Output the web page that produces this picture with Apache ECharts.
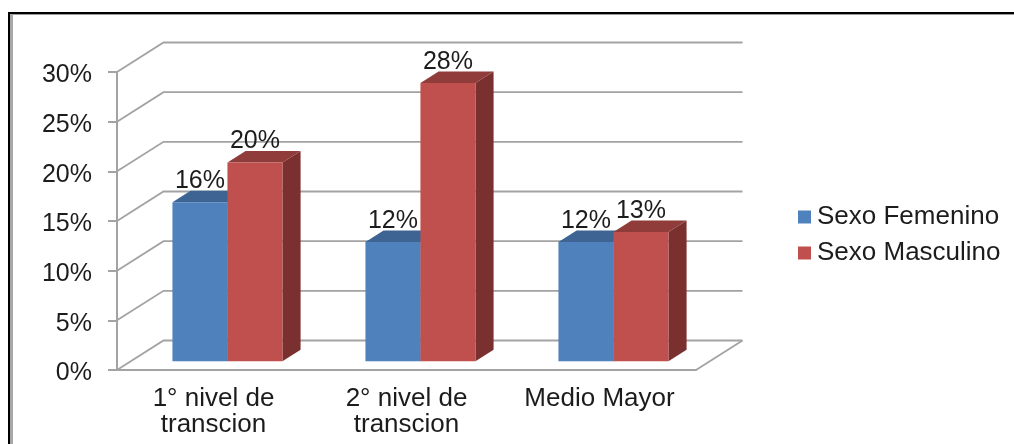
<!DOCTYPE html>
<html>
<head>
<meta charset="utf-8">
<style>
  html, body { margin: 0; padding: 0; background: #fff; }
  #chart { width: 1014px; height: 444px; }
</style>
<script src="https://cdn.jsdelivr.net/npm/echarts@6/dist/echarts.min.js"></script>
</head>
<body>
<div id="chart"></div>
<script>
// Percentages per education level and sex
const categories = ['1° nivel de\ntranscion', '2° nivel de\ntranscion', 'Medio Mayor'];
const femaleValues = [16, 12, 12];
const maleValues = [20, 28, 13];
const wallTicks = [0, 5, 10, 15, 20, 25, 30];

// Oblique projection used for the box and the columns
const DEPTH_X = 46.5, DEPTH_Y = 29.5;
const BAR_NEAR = 0.3, BAR_FAR = 0.69;
const BAR_SHARE = 0.285;

const FONT = '"Liberation Sans", Arial, sans-serif';
const TEXT = '#1c1c1c';
const GRID = '#a3a3a3';

const chart = echarts.init(document.getElementById('chart'), null, { renderer: 'canvas' });

// Back wall and side wall rules, one per tick, plus the floor's right edge
function renderWall(params, api) {
  const band = api.size([1, 0])[0];
  const p = api.coord([0, api.value(1)]);
  const x0 = p[0] - band / 2;
  const xEnd = x0 + band * categories.length;
  const children = [{
    type: 'polyline',
    shape: { points: [[x0, p[1]], [x0 + DEPTH_X, p[1] - DEPTH_Y], [xEnd + DEPTH_X, p[1] - DEPTH_Y]] },
    style: { stroke: GRID, lineWidth: 1.8, fill: null }
  }];
  if (params.dataIndex === 0) {
    children.push({
      type: 'line',
      shape: { x1: xEnd, y1: p[1], x2: xEnd + DEPTH_X, y2: p[1] - DEPTH_Y },
      style: { stroke: GRID, lineWidth: 1.8 }
    });
  }
  return { type: 'group', children };
}

// One column: front, top and side faces, with its value label over the top face
function columnRenderer(slot, front, top, side) {
  return function (params, api) {
    const band = api.size([1, 0])[0];
    const w = band * BAR_SHARE;
    const value = api.value(1);
    const base = api.coord([api.value(0), 0]);
    const head = api.coord([api.value(0), value]);
    const nx = DEPTH_X * BAR_NEAR, ny = DEPTH_Y * BAR_NEAR;
    const fx = DEPTH_X * BAR_FAR, fy = DEPTH_Y * BAR_FAR;
    const left = base[0] + nx + slot * w;
    const right = left + w;
    const yb = base[1] - ny, yt = head[1] - ny;
    const dx = fx - nx, dy = fy - ny;
    const face = (points, fill) => ({ type: 'polygon', shape: { points }, style: { fill } });
    return {
      type: 'group',
      children: [
        face([[right, yb], [right + dx, yb - dy], [right + dx, yt - dy], [right, yt]], side),
        face([[left, yt], [left + dx, yt - dy], [right + dx, yt - dy], [right, yt]], top),
        face([[left, yb], [right, yb], [right, yt], [left, yt]], front),
        {
          type: 'text',
          z2: 10,
          style: {
            text: value + '%',
            x: (left + right) / 2,
            y: yt - dy + 3,
            align: 'center',
            verticalAlign: 'bottom',
            font: '25px ' + FONT,
            fill: TEXT
          }
        }
      ]
    };
  };
}

chart.setOption({
  animation: false,
  backgroundColor: '#fff',
  grid: { left: 117, top: 72, width: 579, height: 298 },
  xAxis: {
    type: 'category',
    data: categories,
    axisLine: { lineStyle: { color: GRID, width: 2 } },
    axisTick: { length: 7, lineStyle: { color: GRID, width: 2 } },
    axisLabel: { color: TEXT, fontFamily: FONT, fontSize: 26, lineHeight: 26, margin: 16, interval: 0 }
  },
  yAxis: {
    type: 'value',
    min: 0,
    max: 30,
    interval: 5,
    splitLine: { show: false },
    axisLine: { show: true, lineStyle: { color: GRID, width: 2 } },
    axisTick: { show: true, length: 9, lineStyle: { color: GRID, width: 2 } },
    axisLabel: {
      margin: 25,
      formatter: '{pct|{value}%}',
      rich: { pct: { color: TEXT, fontFamily: FONT, fontSize: 25, padding: [7, 0, 0, 0] } }
    }
  },
  legend: {
    orient: 'vertical',
    left: 798,
    top: 204,
    padding: 0,
    itemWidth: 13,
    itemHeight: 13,
    itemGap: 10,
    icon: 'rect',
    data: ['Sexo Femenino', 'Sexo Masculino'],
    textStyle: { color: TEXT, fontFamily: FONT, fontSize: 26, padding: [0, 0, 0, 1] }
  },
  series: [
    {
      name: 'wall',
      type: 'custom',
      renderItem: renderWall,
      data: wallTicks.map(t => [0, t]),
      z: 1,
      silent: true
    },
    {
      name: 'Sexo Femenino',
      type: 'custom',
      renderItem: columnRenderer(-1, '#4f81bd', '#3e6493', '#3a5d88'),
      itemStyle: { color: '#4f81bd' },
      data: femaleValues.map((v, i) => [i, v]),
      z: 3
    },
    {
      name: 'Sexo Masculino',
      type: 'custom',
      renderItem: columnRenderer(0, '#c0504d', '#8f3c3a', '#7a302e'),
      itemStyle: { color: '#c0504d' },
      data: maleValues.map((v, i) => [i, v]),
      z: 4
    }
  ],
  graphic: [
    { type: 'rect', silent: true, shape: { x: 8, y: 12, width: 1006, height: 2 }, style: { fill: '#000' } },
    { type: 'rect', silent: true, shape: { x: 10, y: 14, width: 1004, height: 1 }, style: { fill: '#9a9a9a' } },
    { type: 'rect', silent: true, shape: { x: 8, y: 12, width: 2, height: 432 }, style: { fill: '#000' } },
    { type: 'rect', silent: true, shape: { x: 10, y: 14, width: 3, height: 430 }, style: { fill: '#a8a8a8' } }
  ]
});
</script>
</body>
</html>
